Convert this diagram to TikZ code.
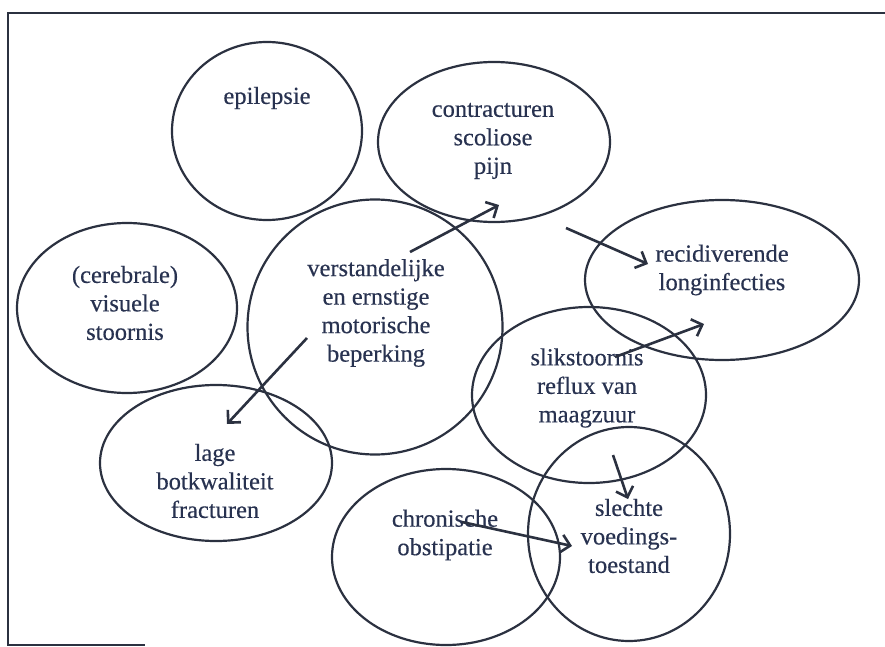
\documentclass[tikz,border=0pt]{standalone}
\usepackage{fontspec}
\setmainfont[FakeBold=0.4]{Liberation Serif}
\usetikzlibrary{shapes.geometric,arrows.meta}
\definecolor{ink}{HTML}{2B3140}
\definecolor{txt}{HTML}{283250}
\tikzset{
  blob/.style={draw=ink, line width=2.2pt, ellipse, inner sep=0pt},
  lbl/.style={text=txt, align=center, font=\fontsize{24.5}{28.5}\selectfont, inner sep=0pt},
  arr/.style={draw=ink, line width=2.6pt, -{Straight Barb[length=9pt,width=18pt,line width=2.6pt]}},
  frame/.style={draw=ink, line width=1.6pt}
}
\begin{document}
\begin{tikzpicture}[x=1pt,y=-1pt]
\useasboundingbox (0,0) rectangle (885,647);
% frame
\coordinate (ftl) at (8,13);
\coordinate (ftr) at (885,13);
\coordinate (fbl) at (8,645);
\coordinate (fbe) at (145,645);
\draw[frame] (ftr) -- (ftl) -- (fbl) -- (fbe);
% ellipses
\node[blob, minimum width=190pt, minimum height=178pt] (epi) at (267,131) {};
\node[blob, minimum width=232pt, minimum height=160pt] (con) at (494,142) {};
\node[blob, minimum width=220pt, minimum height=170pt] (vis) at (127,308) {};
\node[blob, minimum width=255pt, minimum height=255pt] (ver) at (375,327) {};
\node[blob, minimum width=274pt, minimum height=160pt] (rec) at (722,280) {};
\node[blob, minimum width=234pt, minimum height=176pt] (sli) at (589,395) {};
\node[blob, minimum width=232pt, minimum height=156pt] (lag) at (216,463) {};
\node[blob, minimum width=228pt, minimum height=176pt] (chr) at (446,557) {};
\node[blob, minimum width=202pt, minimum height=214pt] (sle) at (629,534) {};
% labels
\node[lbl] (tepi) at (267,98) {epilepsie};
\node[lbl] (tcon) at (493,141) {contracturen\\scoliose\\pijn};
\node[lbl] (tvis) at (125,303) {(cerebrale)\\visuele\\stoornis};
\node[lbl] (tver) at (376,313) {verstandelijke\\en ernstige\\motorische\\beperking};
\node[lbl] (trec) at (722,270) {recidiverende\\longinfecties};
\node[lbl] (tsli) at (587,388) {slikstoornis\\reflux van\\maagzuur};
\node[lbl] (tlag) at (215,481) {lage\\botkwaliteit\\fracturen};
\node[lbl] (tchr) at (445,535) {chronische\\obstipatie};
\node[lbl] (tsle) at (629,536) {slechte\\voedings-\\toestand};
% arrow ends
\coordinate (a1s) at (410,252);
\coordinate (a1e) at (499,205);
\coordinate (a2s) at (566,228);
\coordinate (a2e) at (648,264);
\coordinate (a3s) at (307,338);
\coordinate (a3e) at (227,424);
\coordinate (a4s) at (615,357);
\coordinate (a4e) at (704,324);
\coordinate (a5s) at (613,455);
\coordinate (a5e) at (628,499);
\coordinate (a6s) at (462,522);
\coordinate (a6e) at (572,546);
\draw[arr] (a1s) -- (a1e);
\draw[arr] (a2s) -- (a2e);
\draw[arr] (a3s) -- (a3e);
\draw[arr] (a4s) -- (a4e);
\draw[arr] (a5s) -- (a5e);
\draw[arr] (a6s) -- (a6e);
\end{tikzpicture}
\end{document}
